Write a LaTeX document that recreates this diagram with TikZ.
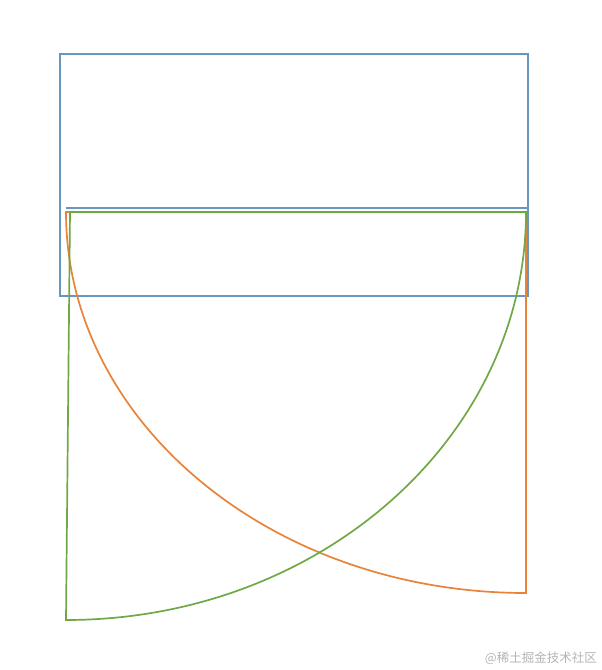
\documentclass[tikz,border=0pt]{standalone}
\usepackage{fontspec}
\newfontfamily\cjk{Noto Sans CJK SC}
\definecolor{cblue}{HTML}{6896C2}
\definecolor{corange}{HTML}{E8833A}
\definecolor{cgreen}{HTML}{70A845}
\definecolor{cmark}{HTML}{B4B4B4}
\begin{document}
\begin{tikzpicture}[x=1pt,y=1pt,
  lineblue/.style={draw=cblue,line width=1.7pt},
  lineorange/.style={draw=corange,line width=1.7pt,line join=miter},
  linegreen/.style={draw=cgreen,line width=1.7pt,line join=miter}]
\useasboundingbox (0,0) rectangle (602,-670);
% blue rectangle and line
\coordinate (b1) at (60,-54);
\coordinate (b2) at (528,-296);
\draw[lineblue] (b1) rectangle (b2);
\coordinate (bl) at (66,-208);
\coordinate (br) at (528,-208);
\draw[lineblue] (bl) -- (br);
% orange shape
\coordinate (o1) at (66,-212);
\coordinate (o2) at (526,-593);
\coordinate (o3) at (526,-212);
\draw[lineorange] (o1) arc[start angle=180,end angle=270,x radius=460,y radius=381] -- (o3) -- cycle;
% green shape
\coordinate (g1) at (70,-212);
\coordinate (g2) at (526,-212);
\coordinate (g3) at (66,-620);
\draw[linegreen] (g1) -- (g2) arc[start angle=0,end angle=-90,x radius=460,y radius=408] -- cycle;
% watermark
\node[text=cmark,font=\cjk\fontsize{12.5}{14}\selectfont,anchor=east,inner sep=0pt] (wm) at (597,-658) {@稀土掘金技术社区};
\end{tikzpicture}
\end{document}
